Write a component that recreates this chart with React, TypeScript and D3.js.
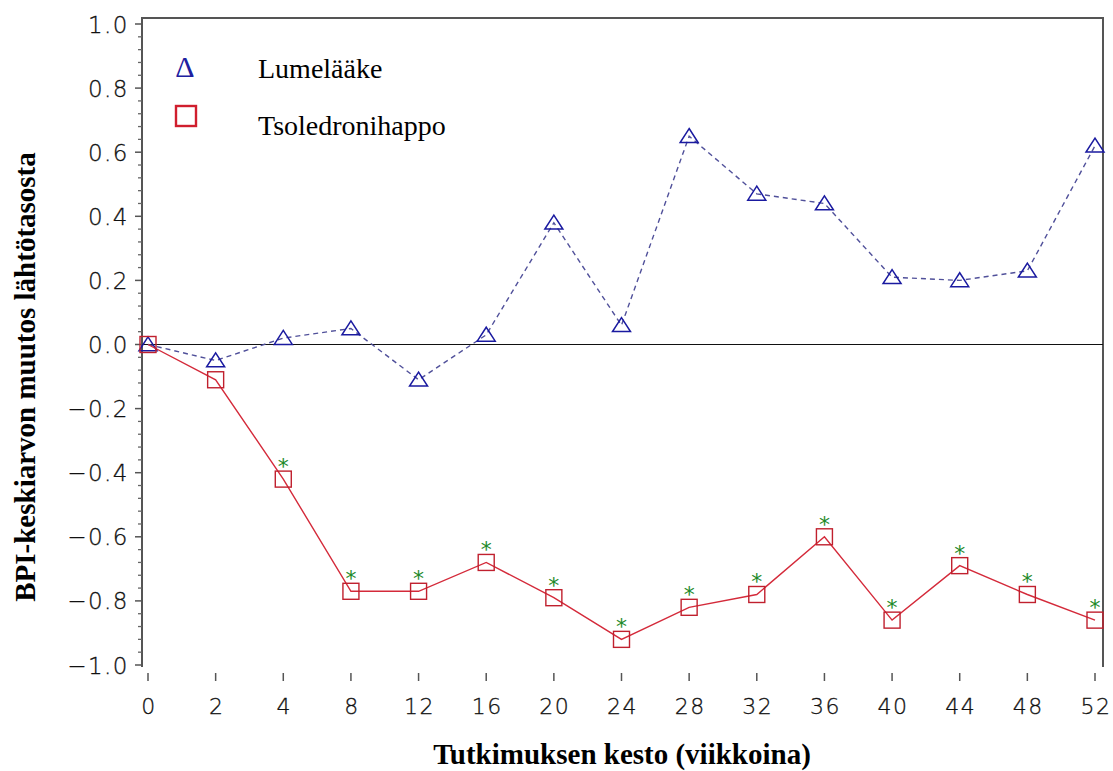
import React from 'react';
import * as d3 from 'd3';

const weeks = ['0', '2', '4', '8', '12', '16', '20', '24', '28', '32', '36', '40', '44', '48', '52'];
const placebo = [0.0, -0.05, 0.02, 0.05, -0.11, 0.03, 0.38, 0.06, 0.65, 0.47, 0.44, 0.21, 0.2, 0.23, 0.62];
const zoledronic = [0.0, -0.11, -0.42, -0.77, -0.77, -0.68, -0.79, -0.92, -0.82, -0.78, -0.6, -0.86, -0.69, -0.78, -0.86];
const significant = [false, false, true, true, true, true, true, true, true, true, true, true, true, true, true];
const yTicks = [1.0, 0.8, 0.6, 0.4, 0.2, 0.0, -0.2, -0.4, -0.6, -0.8, -1.0];

const W = 1113;
const H = 771;
const frame = { left: 142, right: 1103, top: 18, bottom: 667 };

const App = () => {
  const x = d3.scalePoint<string>().domain(weeks).range([148, 1095]);
  const y = d3.scaleLinear().domain([-1, 1]).range([665, 24]);

  const minorTicks = d3.range(-1, 1.0001, 0.04).filter(v => Math.abs(Math.round(v * 5) - v * 5) > 0.01);

  const line = d3.line<number>()
    .x((_, i) => x(weeks[i]) as number)
    .y(d => y(d));

  const tri = (cx: number, cy: number, s = 9) =>
    `M${cx},${cy - s * 0.85} L${cx + s},${cy + s * 0.7} L${cx - s},${cy + s * 0.7} Z`;

  const fmt = (v: number) => {
    const s = Math.abs(v).toFixed(1);
    return v < -0.001 ? '\u2212' + s : s;
  };

  const tickFont = '"DejaVu Sans", sans-serif';
  const serif = '"Liberation Serif", "Times New Roman", serif';

  return (
    <svg width={W} height={H} style={{ position: 'absolute', left: 0, top: 0, background: '#fff' }}>
      {/* frame (no bottom line) */}
      <path
        d={`M${frame.left},${frame.bottom} V${frame.top} H${frame.right} V${frame.bottom}`}
        fill="none" stroke="#555" strokeWidth={2}
      />

      {/* y ticks */}
      {yTicks.map(v => (
        <g key={'yt' + v}>
          <line x1={frame.left - 7} x2={frame.left} y1={y(v)} y2={y(v)} stroke="#555" strokeWidth={1.5} />
          <text x={129} y={y(v) + 8.5} textAnchor="end" fontFamily={tickFont} fontWeight={300} fontSize={23}
            letterSpacing={1.5} fill="#111" stroke="#111" strokeWidth={0.3}>{fmt(v)}</text>
        </g>
      ))}
      {minorTicks.map(v => (
        <line key={'mt' + v} x1={frame.left - 4} x2={frame.left} y1={y(v)} y2={y(v)} stroke="#666" strokeWidth={1.3} />
      ))}

      {/* x ticks */}
      {weeks.map(w => (
        <g key={'xt' + w}>
          <line x1={x(w)} x2={x(w)} y1={673} y2={681} stroke="#555" strokeWidth={1.5} />
          <text x={(x(w) as number) + 1} y={714} textAnchor="middle" fontFamily={tickFont} fontWeight={300}
            fontSize={22} letterSpacing={1.5} fill="#111" stroke="#111" strokeWidth={0.3}>{w}</text>
        </g>
      ))}

      {/* zero reference */}
      <line x1={frame.left} x2={frame.right} y1={y(0)} y2={y(0)} stroke="#111" strokeWidth={1.2} />

      {/* placebo */}
      <path d={line(placebo) as string} fill="none" stroke="#50509a" strokeWidth={1.4} strokeDasharray="5,4" />
      {placebo.map((v, i) => (
        <path key={'p' + i} d={tri(x(weeks[i]) as number, y(v))} fill="none" stroke="#1a1aa0" strokeWidth={1.5} />
      ))}

      {/* zoledronic acid */}
      <path d={line(zoledronic) as string} fill="none" stroke="#d42a3a" strokeWidth={1.4} />
      {zoledronic.map((v, i) => (
        <rect key={'z' + i} x={(x(weeks[i]) as number) - 8} y={y(v) - 8} width={16} height={16}
          fill="none" stroke="#c0202e" strokeWidth={1.4} />
      ))}
      {zoledronic.map((v, i) => significant[i] ? (
        <text key={'s' + i} x={x(weeks[i])} y={y(v) - 5} textAnchor="middle" fontFamily={tickFont}
          fontSize={22} fill="#1e8a2a">*</text>
      ) : null)}

      {/* legend */}
      <text x={185} y={77} textAnchor="middle" fontFamily={serif} fontSize={30} fill="#2020a0">Δ</text>
      <text x={258} y={78} fontFamily={serif} fontSize={28} fill="#000">Lumelääke</text>
      <rect x={176} y={106} width={20} height={20} fill="none" stroke="#d01e2e" strokeWidth={2.4} />
      <text x={258} y={135} fontFamily={serif} fontSize={28} fill="#000">Tsoledronihappo</text>

      {/* axis titles */}
      <text x={622} y={764} textAnchor="middle" fontFamily={serif} fontWeight="bold" fontSize={29} fill="#000">
        Tutkimuksen kesto (viikkoina)
      </text>
      <text transform={`translate(35,377) rotate(-90)`} textAnchor="middle" fontFamily={serif} fontWeight="bold"
        fontSize={29} fill="#000">
        BPI-keskiarvon muutos lähtötasosta
      </text>
    </svg>
  );
};

export default App;
